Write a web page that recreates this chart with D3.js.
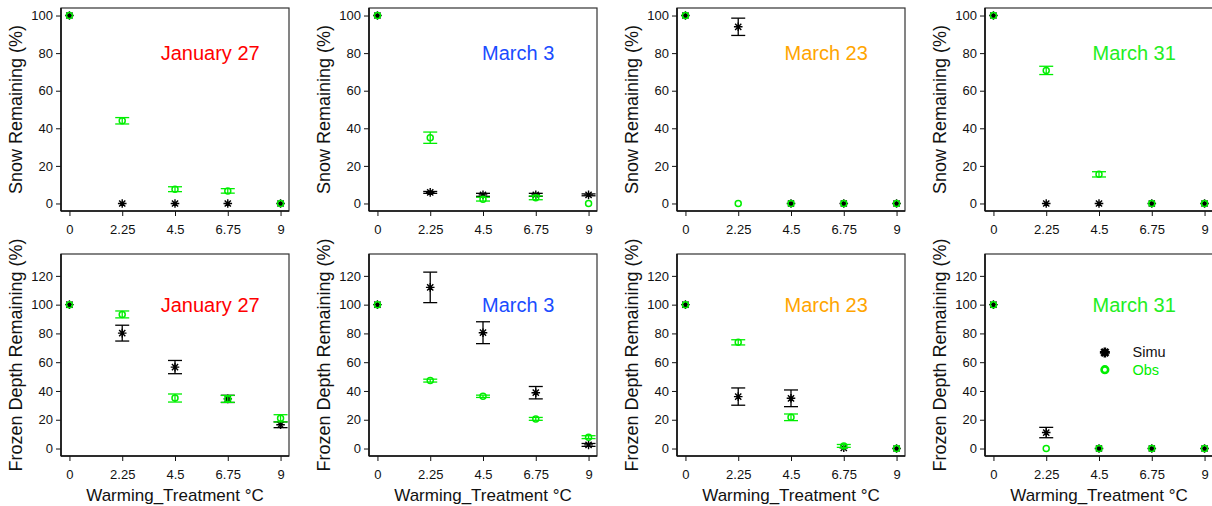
<!DOCTYPE html>
<html lang="en">
    <head>
        <meta charset="UTF-8" />
        <title>Snow and frozen depth remaining</title>
        <style>
            body { margin: 0; background: #fff; }
            text { font-family: "Liberation Sans", Arial, sans-serif; }
        </style>
    </head>
    <body>
        <div id="main"></div>
        <script src="https://cdn.jsdelivr.net/npm/d3@7"></script>
        <script>
            const svgWidth = 1212
            const svgHeight = 506

            // data
            const treatments = [0, 2.25, 4.5, 6.75, 9]
            const treatmentLabels = ["0", "2.25", "4.5", "6.75", "9"]
            const dates = ["January 27", "March 3", "March 23", "March 31"]
            const dateColors = ["#ff0000", "#1a4cff", "#ffa500", "#22ee22"]

            const snowSimu = [[100, 0, 0, 0, 0], [100, 5.9, 4.6, 4.6, 4.6], [100, 94, 0, 0, 0], [100, 0, 0, 0, 0]]
            const snowSimuErr = [[0, 0, 0, 0, 0], [0, 0.5, 0.8, 0.8, 0.5], [0, 4.6, 0, 0, 0], [0, 0, 0, 0, 0]]
            const snowObs = [[100, 44, 7.6, 6.7, 0], [100, 35, 2.3, 3, 0], [100, 0, 0, 0, 0], [100, 70.8, 15.5, 0, 0]]
            const snowObsErr = [[0, 1.7, 1.3, 1.2, 0], [0, 3, 1, 1, 0], [0, 0, 0, 0, 0], [0, 2.2, 1.4, 0, 0]]

            const frozenSimu = [[100, 80.2, 56.6, 34.5, 16.5], [100, 112, 80.5, 38.8, 2.5], [100, 36.1, 34.9, 0.5, 0], [100, 11.1, 0, 0, 0]]
            const frozenSimuErr = [[0, 5.5, 4.6, 2.5, 2], [0, 10.6, 7.6, 4.3, 1], [0, 6, 5.8, 0, 0], [0, 3.6, 0, 0, 0]]
            const frozenObs = [[100, 93.2, 35.1, 34.5, 21], [100, 47.2, 36.3, 20.6, 7.9], [100, 73.8, 21.7, 1.8, 0], [100, 0, 0, 0, 0]]
            const frozenObsErr = [[0, 2.4, 2.8, 2.4, 2.5], [0, 1, 0.8, 1, 1], [0, 1.8, 2.3, 1, 0], [0, 0, 0, 0, 0]]

            const snowTicks = [0, 20, 40, 60, 80, 100]
            const frozenTicks = [0, 20, 40, 60, 80, 100, 120]
            const legendItems = ["Simu", "Obs"]

            // layout
            const panelLeft = 61
            const panelStep = 308
            const panelWidth = 228
            const rows = [
                { top: 8, bottom: 211, domain: [-4, 104], ticks: snowTicks, label: "Snow Remaining (%)", titleY: 80,
                  simu: snowSimu, simuErr: snowSimuErr, obs: snowObs, obsErr: snowObsErr, xTitle: false },
                { top: 254, bottom: 456, domain: [-5.2, 135.2], ticks: frozenTicks, label: "Frozen Depth Remaining (%)", titleY: 100,
                  simu: frozenSimu, simuErr: frozenSimuErr, obs: frozenObs, obsErr: frozenObsErr, xTitle: true }
            ]
            const obsColor = "#00ee00"
            const capHalf = 7

            const svg = d3.select("#main")
                .append("svg")
                .attr("width", svgWidth)
                .attr("height", svgHeight)

            function starPath(s) {
                const d = s * 0.72
                return `M${-s},0L${s},0M0,${-s}L0,${s}M${-d},${-d}L${d},${d}M${-d},${d}L${d},${-d}`
            }

            rows.forEach((row) => {
                dates.forEach((date, p) => {
                    const left = panelLeft + p * panelStep
                    const x = d3.scaleLinear().domain([-0.36, 9.36]).range([left, left + panelWidth])
                    const y = d3.scaleLinear().domain(row.domain).range([row.bottom, row.top])
                    const g = svg.append("g")

                    g.append("g")
                        .attr("transform", `translate(${left},0)`)
                        .call(d3.axisLeft(y).tickValues(row.ticks).tickSize(5).tickPadding(3).tickFormat(d3.format("d")))
                        .call((a) => a.select(".domain").remove())
                        .call((a) => a.selectAll("text").attr("font-size", 13).attr("fill", "#111").style("font-family", "Liberation Sans, Arial, sans-serif"))
                        .call((a) => a.selectAll("line").attr("stroke", "#111"))

                    g.append("g")
                        .attr("transform", `translate(0,${row.bottom})`)
                        .call(d3.axisBottom(x).tickValues(treatments).tickSize(5).tickPadding(9).tickFormat((d, i) => treatmentLabels[i]))
                        .call((a) => a.select(".domain").remove())
                        .call((a) => a.selectAll("text").attr("font-size", 13).attr("fill", "#111").style("font-family", "Liberation Sans, Arial, sans-serif"))
                        .call((a) => a.selectAll("line").attr("stroke", "#111"))

                    g.append("rect")
                        .attr("x", left)
                        .attr("y", row.top)
                        .attr("width", panelWidth)
                        .attr("height", row.bottom - row.top)
                        .attr("fill", "none")
                        .attr("stroke", "#333")
                        .attr("stroke-width", 1.2)
                    g.append("line")
                        .attr("x1", left).attr("x2", left)
                        .attr("y1", row.top).attr("y2", row.bottom)
                        .attr("stroke", "#111").attr("stroke-width", 1.6)
                    g.append("line")
                        .attr("x1", left).attr("x2", left + panelWidth)
                        .attr("y1", row.bottom).attr("y2", row.bottom)
                        .attr("stroke", "#111").attr("stroke-width", 1.6)

                    // y axis title
                    g.append("text")
                        .attr("transform", `translate(${left - 45},${(row.top + row.bottom) / 2}) rotate(-90)`)
                        .attr("text-anchor", "middle")
                        .attr("dominant-baseline", "central")
                        .attr("font-size", 18)
                        .attr("fill", "#111")
                        .text(row.label)

                    if (row.xTitle) {
                        g.append("text")
                            .attr("x", left + panelWidth / 2)
                            .attr("y", 501)
                            .attr("text-anchor", "middle")
                            .attr("font-size", 17)
                            .attr("fill", "#111")
                            .text("Warming_Treatment \u00b0C")
                    }

                    // date label
                    g.append("text")
                        .attr("x", x(6))
                        .attr("y", y(row.titleY))
                        .attr("text-anchor", "middle")
                        .attr("dominant-baseline", "central")
                        .attr("font-size", 20)
                        .attr("fill", dateColors[p])
                        .text(date)

                    const series = [
                        { values: row.simu[p], errs: row.simuErr[p], color: "#000", kind: "star" },
                        { values: row.obs[p], errs: row.obsErr[p], color: obsColor, kind: "circle" }
                    ]
                    series.forEach((s) => {
                        const pts = treatments.map((t, i) => ({ t, v: s.values[i], e: s.errs[i] }))
                        const eb = g.append("g").attr("stroke", s.color).attr("stroke-width", 1.3)
                        const withErr = pts.filter((d) => d.e > 0)
                        eb.selectAll("line.v")
                            .data(withErr)
                            .enter()
                            .append("line")
                            .attr("x1", (d) => x(d.t)).attr("x2", (d) => x(d.t))
                            .attr("y1", (d) => y(d.v - d.e)).attr("y2", (d) => y(d.v + d.e))
                        eb.selectAll("line.lo")
                            .data(withErr)
                            .enter()
                            .append("line")
                            .attr("x1", (d) => x(d.t) - capHalf).attr("x2", (d) => x(d.t) + capHalf)
                            .attr("y1", (d) => y(d.v - d.e)).attr("y2", (d) => y(d.v - d.e))
                        eb.selectAll("line.hi")
                            .data(withErr)
                            .enter()
                            .append("line")
                            .attr("x1", (d) => x(d.t) - capHalf).attr("x2", (d) => x(d.t) + capHalf)
                            .attr("y1", (d) => y(d.v + d.e)).attr("y2", (d) => y(d.v + d.e))

                        if (s.kind === "star") {
                            g.selectAll(null)
                                .data(pts)
                                .enter()
                                .append("path")
                                .attr("transform", (d) => `translate(${x(d.t)},${y(d.v)})`)
                                .attr("d", starPath(4.3))
                                .attr("stroke", s.color)
                                .attr("stroke-width", 1.4)
                                .attr("fill", "none")
                        } else {
                            g.selectAll(null)
                                .data(pts)
                                .enter()
                                .append("circle")
                                .attr("cx", (d) => x(d.t))
                                .attr("cy", (d) => y(d.v))
                                .attr("r", 3)
                                .attr("stroke", s.color)
                                .attr("stroke-width", 1.5)
                                .attr("fill", "none")
                        }
                    })

                    // legend in the last frozen panel
                    if (row.xTitle && p === dates.length - 1) {
                        const lg = g.append("g")
                        const ly = [66.8, 54.8]
                        lg.append("path")
                            .attr("transform", `translate(${x(4.75)},${y(ly[0])})`)
                            .attr("d", starPath(5))
                            .attr("stroke", "#000")
                            .attr("stroke-width", 2.6)
                        lg.append("circle")
                            .attr("cx", x(4.75))
                            .attr("cy", y(ly[1]))
                            .attr("r", 3.3)
                            .attr("stroke", obsColor)
                            .attr("stroke-width", 2.6)
                            .attr("fill", "none")
                        lg.selectAll("text")
                            .data(legendItems)
                            .enter()
                            .append("text")
                            .attr("x", x(5.93))
                            .attr("y", (d, i) => y(ly[i]))
                            .attr("dominant-baseline", "central")
                            .attr("font-size", 14.5)
                            .attr("fill", (d, i) => (i === 0 ? "#111" : obsColor))
                            .text((d) => d)
                    }
                })
            })
        </script>
    </body>
</html>
